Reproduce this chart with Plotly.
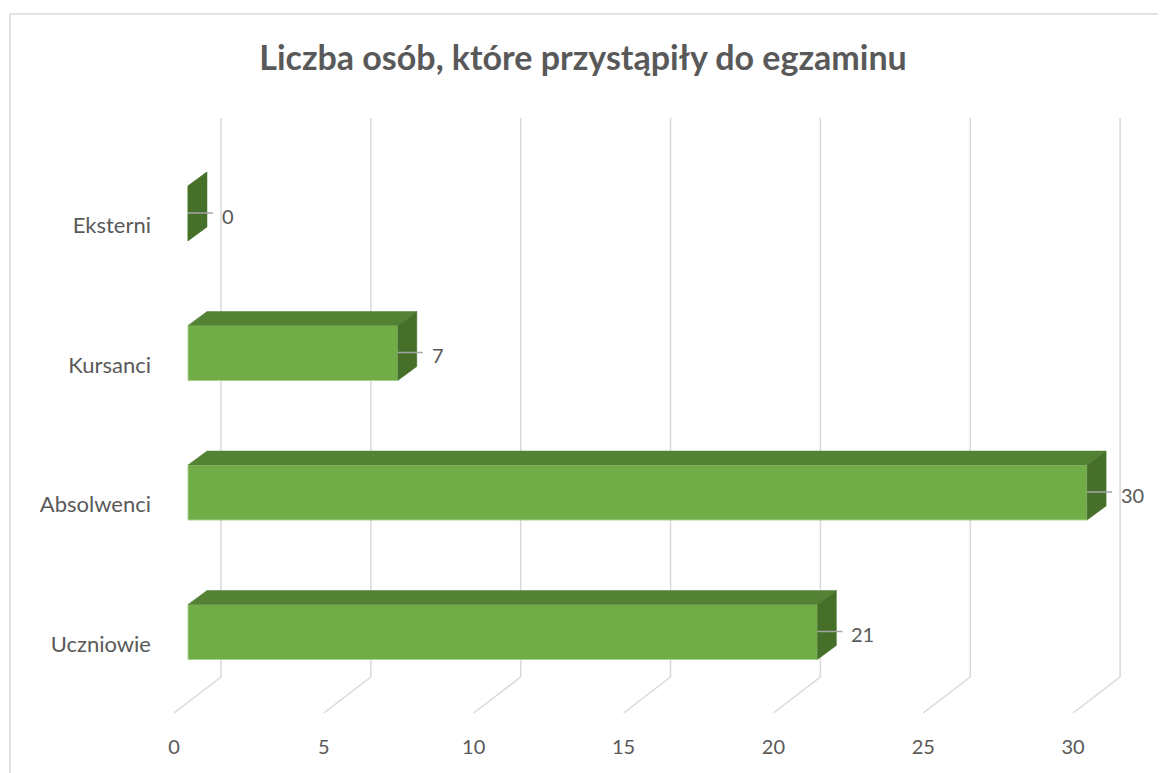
import plotly.graph_objects as go

# ---------------- data ----------------
categories = ["Uczniowie", "Absolwenci", "Kursanci", "Eksterni"]
values = [21, 30, 7, 0]
tick_values = [0, 5, 10, 15, 20, 25, 30]
title_text = "Liczba osób, które przystąpiły do egzaminu"

# ---------------- geometry (pixel calibration of the oblique view) ----------------
OFF = 8                      # default page body margin
W, H = 1166 - OFF, 773 - OFF
# plot area in page pixels
L, R, T, B = 160, 1150, 100, 733
PX_X = 29.97          # px per value unit
X0 = 188              # page px of value 0 on bar front face
PX_Y = 139.5          # px per category step
Y0 = 632              # page px of first category centre (bar front face)

x_range = [(L - X0) / PX_X, (R - X0) / PX_X]
y_range = [(Y0 - B) / PX_Y, (Y0 - T) / PX_Y]

bar_dx = 19 / PX_X            # depth of bar (x)
bar_dy = 14 / PX_Y            # depth of bar (y)
bar_h = 55 / PX_Y             # bar front face height
wall_dx = 33 / PX_X           # back wall offset from bar front
floor_back_y = (Y0 - 677) / PX_Y
floor_front_dx = -14 / PX_X
floor_front_y = (Y0 - 713) / PX_Y
grid_top_y = (Y0 - 118) / PX_Y
label_shift = -12 / PX_Y

FRONT = "#70AD47"
TOP = "#548235"
SIDE = "#46702A"
GRID = "#D9D9D9"
TXT = "#595959"
FONT = "Lato"

fig = go.Figure()

shapes = []
# gridlines: back wall vertical + floor diagonal (behind the bars)
for v in tick_values:
    shapes.append(dict(type="line", xref="x", yref="y", layer="below",
                       x0=v + floor_front_dx, y0=floor_front_y,
                       x1=v + wall_dx, y1=floor_back_y,
                       line=dict(color=GRID, width=1.5)))
    shapes.append(dict(type="line", xref="x", yref="y", layer="below",
                       x0=v + wall_dx, y0=floor_back_y,
                       x1=v + wall_dx, y1=grid_top_y,
                       line=dict(color=GRID, width=1.5)))

# chart border: left and top edges (right/bottom lie outside the view)
bx0 = (10 - L) / (R - L)
bx1 = (1170 - L) / (R - L)
by_top = (B - 14) / (B - T)
by_bot = -(780 - B) / (B - T)
shapes.append(dict(type="line", xref="paper", yref="paper", layer="below",
                   x0=bx0, x1=bx0, y0=by_bot, y1=by_top,
                   line=dict(color="#D9D9D9", width=1.5)))
shapes.append(dict(type="line", xref="paper", yref="paper", layer="below",
                   x0=bx0, x1=bx1, y0=by_top, y1=by_top,
                   line=dict(color="#D9D9D9", width=1.5)))

ypos = list(range(len(categories)))

# front faces
fig.add_trace(go.Bar(
    x=values, y=ypos, orientation="h", width=bar_h, base=0,
    marker=dict(color=FRONT, line=dict(color="#A9D18E", width=1)),
    showlegend=False, hoverinfo="skip"))

# top and side faces, leader lines, labels
for yc, v in zip(ypos, values):
    h = bar_h / 2
    fig.add_trace(go.Scatter(
        x=[0, v, v + bar_dx, bar_dx, 0],
        y=[yc + h, yc + h, yc + h + bar_dy, yc + h + bar_dy, yc + h],
        fill="toself", fillcolor=TOP, mode="lines",
        line=dict(color=TOP, width=0.5),
        hoverinfo="skip", showlegend=False))
    fig.add_trace(go.Scatter(
        x=[v, v, v + bar_dx, v + bar_dx, v],
        y=[yc - h, yc + h, yc + h + bar_dy, yc - h + bar_dy, yc - h],
        fill="toself", fillcolor=SIDE, mode="lines",
        line=dict(color=SIDE, width=0.5),
        hoverinfo="skip", showlegend=False))
    fig.add_trace(go.Scatter(
        x=[v, v + 25 / PX_X], y=[yc + 0.5 / PX_Y, yc + 0.5 / PX_Y],
        mode="lines", line=dict(color="#A6A6A6", width=1.5),
        hoverinfo="skip", showlegend=False))
    fig.add_annotation(
        x=v + 32 / PX_X, y=yc - 2 / PX_Y, xref="x", yref="y",
        text=str(v), showarrow=False, xanchor="left", yanchor="middle",
        font=dict(family=FONT, size=20, color=TXT))

fig.update_layout(
    width=W, height=H,
    margin=dict(l=L - OFF, r=W - (R - OFF), t=T - OFF, b=H - (B - OFF)),
    paper_bgcolor="white", plot_bgcolor="rgba(0,0,0,0)",
    title=dict(text="<b>" + title_text + "</b>", x=(583 - OFF) / W, xanchor="center",
               y=1 - (58 - OFF) / H, yanchor="middle", yref="container",
               font=dict(family=FONT, size=34, color=TXT)),
    xaxis=dict(range=x_range, showgrid=False, zeroline=False, showline=False,
               tickvals=[v + floor_front_dx for v in tick_values],
               ticktext=[str(v) for v in tick_values],
               ticks="", tickfont=dict(family=FONT, size=20, color=TXT),
               fixedrange=True),
    yaxis=dict(range=y_range, showgrid=False, zeroline=False, showline=False,
               tickvals=[p + label_shift for p in ypos],
               ticktext=categories, ticks="", ticklabelstandoff=8,
               tickfont=dict(family=FONT, size=22, color=TXT),
               fixedrange=True),
    shapes=shapes,
    font=dict(family=FONT, color=TXT),
)

fig.write_html(
    "out.html",
    config={"displayModeBar": False},
    post_script="document.documentElement.style.overflow='hidden';"
                "document.body.style.overflow='hidden';",
)
